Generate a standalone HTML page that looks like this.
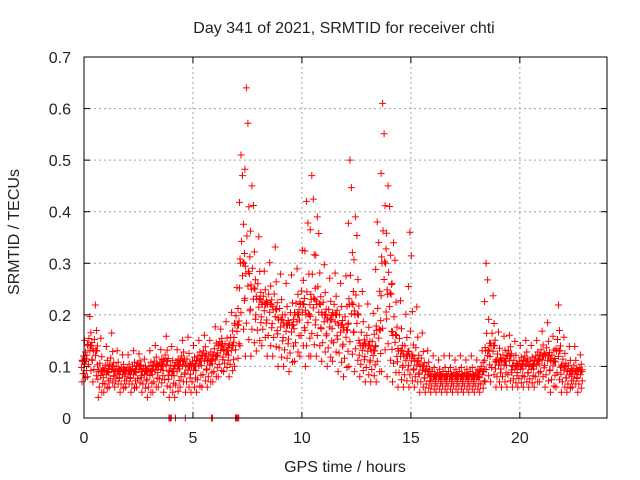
<!DOCTYPE html>
<html><head><meta charset="utf-8"><style>
body{margin:0;background:#fff;}
svg{display:block;font-family:"Liberation Sans",sans-serif;}
text{fill:#222;}
</style></head><body>
<svg id="chart" width="640" height="480">
<text x="344" y="33" font-size="16" text-anchor="middle">Day 341 of 2021, SRMTID for receiver chti</text>
<text x="345" y="472" font-size="16" text-anchor="middle">GPS time / hours</text>
<text transform="translate(19,232) rotate(-90)" font-size="16" text-anchor="middle">SRMTID / TECUs</text>
<g id="grid"></g><g id="ticks"></g><g id="marks"></g>
<rect x="84" y="57" width="523" height="361" fill="none" stroke="#000" stroke-width="1"/>
</svg>
<script>
const xTicks=[0,5,10,15,20];
const yTicks=[0,0.1,0.2,0.3,0.4,0.5,0.6,0.7];
const yTickLabels=["0","0.1","0.2","0.3","0.4","0.5","0.6","0.7"];
const times=[];for(let i=0;i<92;i++)times.push(i*0.25);
const lowVals=[.07,.08,.07,.04,.05,.06,.06,.05,.06,.05,.06,.05,.04,.05,.06,.05,.04,.04,.06,.05,.05,.05,.06,.06,.07,.08,.09,.08,.10,.14,.12,.12,.13,.14,.12,.12,.10,.10,.09,.11,.12,.10,.12,.12,.11,.10,.11,.09,.08,.10,.09,.08,.07,.07,.07,.09,.08,.07,.06,.06,.06,.06,.05,.05,.05,.05,.05,.05,.05,.05,.05,.05,.05,.05,.07,.07,.06,.06,.06,.06,.06,.06,.06,.06,.07,.06,.05,.06,.05,.05,.06,.05];
const midVals=[.11,.14,.13,.09,.09,.10,.09,.09,.09,.09,.10,.09,.09,.10,.10,.11,.09,.10,.11,.10,.10,.11,.12,.11,.12,.14,.13,.14,.18,.30,.28,.25,.23,.22,.22,.21,.19,.18,.18,.20,.22,.20,.23,.22,.20,.19,.20,.18,.17,.22,.20,.14,.14,.13,.17,.30,.24,.16,.13,.12,.12,.11,.10,.09,.08,.08,.08,.08,.08,.08,.08,.08,.08,.09,.13,.14,.11,.11,.12,.10,.10,.11,.10,.11,.12,.12,.11,.13,.10,.09,.09,.09];
const highVals=[.16,.21,.24,.17,.15,.18,.14,.13,.13,.14,.13,.12,.14,.15,.14,.17,.15,.14,.16,.17,.15,.16,.17,.16,.19,.18,.20,.22,.27,.51,.64,.45,.38,.30,.32,.36,.30,.28,.30,.31,.35,.42,.47,.39,.32,.29,.30,.28,.30,.50,.39,.27,.24,.22,.38,.61,.45,.34,.25,.22,.36,.24,.18,.14,.13,.12,.13,.13,.12,.13,.12,.13,.12,.14,.30,.26,.18,.17,.17,.16,.15,.16,.15,.16,.18,.20,.17,.24,.17,.15,.15,.13];
const zeroTimes=[3.9,3.95,4.0,4.2,4.65,5.85,5.9,6.95,7.0,7.05,7.1];
const X0=84,X1=607,Y0=418,Y1=57;
const xs=t=>X0+t/24*(X1-X0);
const ys=v=>Y0-v/0.7*(Y0-Y1);
const NS="http://www.w3.org/2000/svg";
const grid=document.getElementById('grid'),ticks=document.getElementById('ticks'),marks=document.getElementById('marks');
function ln(g,x1,y1,x2,y2,st,dash){const l=document.createElementNS(NS,'line');l.setAttribute('x1',x1);l.setAttribute('y1',y1);l.setAttribute('x2',x2);l.setAttribute('y2',y2);l.setAttribute('stroke',st);if(dash)l.setAttribute('stroke-dasharray',dash);g.appendChild(l);return l;}
xTicks.forEach(t=>{const x=xs(t);
 if(t>0){const g=ln(grid,x,Y1,x,Y0,'#a0a0a0','2,3');
 
 }
 ln(ticks,x,Y0,x,Y0-6,'#000');ln(ticks,x,Y1,x,Y1+6,'#000');
 const tx=document.createElementNS(NS,'text');tx.setAttribute('x',x);tx.setAttribute('y',443);tx.setAttribute('font-size','16');tx.setAttribute('text-anchor','middle');tx.textContent=t;
 
 
 ticks.appendChild(tx);});
yTicks.forEach((v,i)=>{const y=ys(v);
 if(v>0&&v<0.7){const g=ln(grid,X0,y,X1,y,'#a0a0a0','2,3');
 
 }
 ln(ticks,X0,y,X0+6,y,'#000');ln(ticks,X1,y,X1-6,y,'#000');
 const tx=document.createElementNS(NS,'text');tx.setAttribute('x',71);tx.setAttribute('y',y+6);tx.setAttribute('font-size','16');tx.setAttribute('text-anchor','end');tx.textContent=yTickLabels[i];
 
 
 ticks.appendChild(tx);});
let d='';
function cross(x,y){d+=`M${(x-3.5).toFixed(1)} ${y.toFixed(1)}h7M${x.toFixed(1)} ${(y-3.5).toFixed(1)}v7`;}
const pat=[[-1,-2],[-0.8,1.5],[-0.6,-1],[-0.45,2.5],[-0.3,-2.5],[-0.15,0.5],[0,-1.5],[0,2],[0.1,1],[0.2,-2],[0.3,2.5],[0.45,-0.5],[0.6,1.5],[0.75,-2.5],[0.9,0.5],[1,-1]];
times.forEach((t,i)=>{const lo=lowVals[i],m=midVals[i],hi=highVals[i];
 const x=xs(t);
 const pk=(hi-m)>0.15;
 pat.forEach(([f,o],k)=>{
  if(!pk&&f>0.6&&k%2)return;
  const v=f<0?m+f*(m-lo):m+f*f*(hi-m);
  cross(x+o,ys(v));});
});
zeroTimes.forEach(t=>cross(xs(t),Y0));
const p=document.createElementNS(NS,'path');p.setAttribute('d',d);p.setAttribute('stroke','#ff0000');p.setAttribute('stroke-width','1');p.setAttribute('fill','none');


marks.appendChild(p);
</script>
</body></html>
